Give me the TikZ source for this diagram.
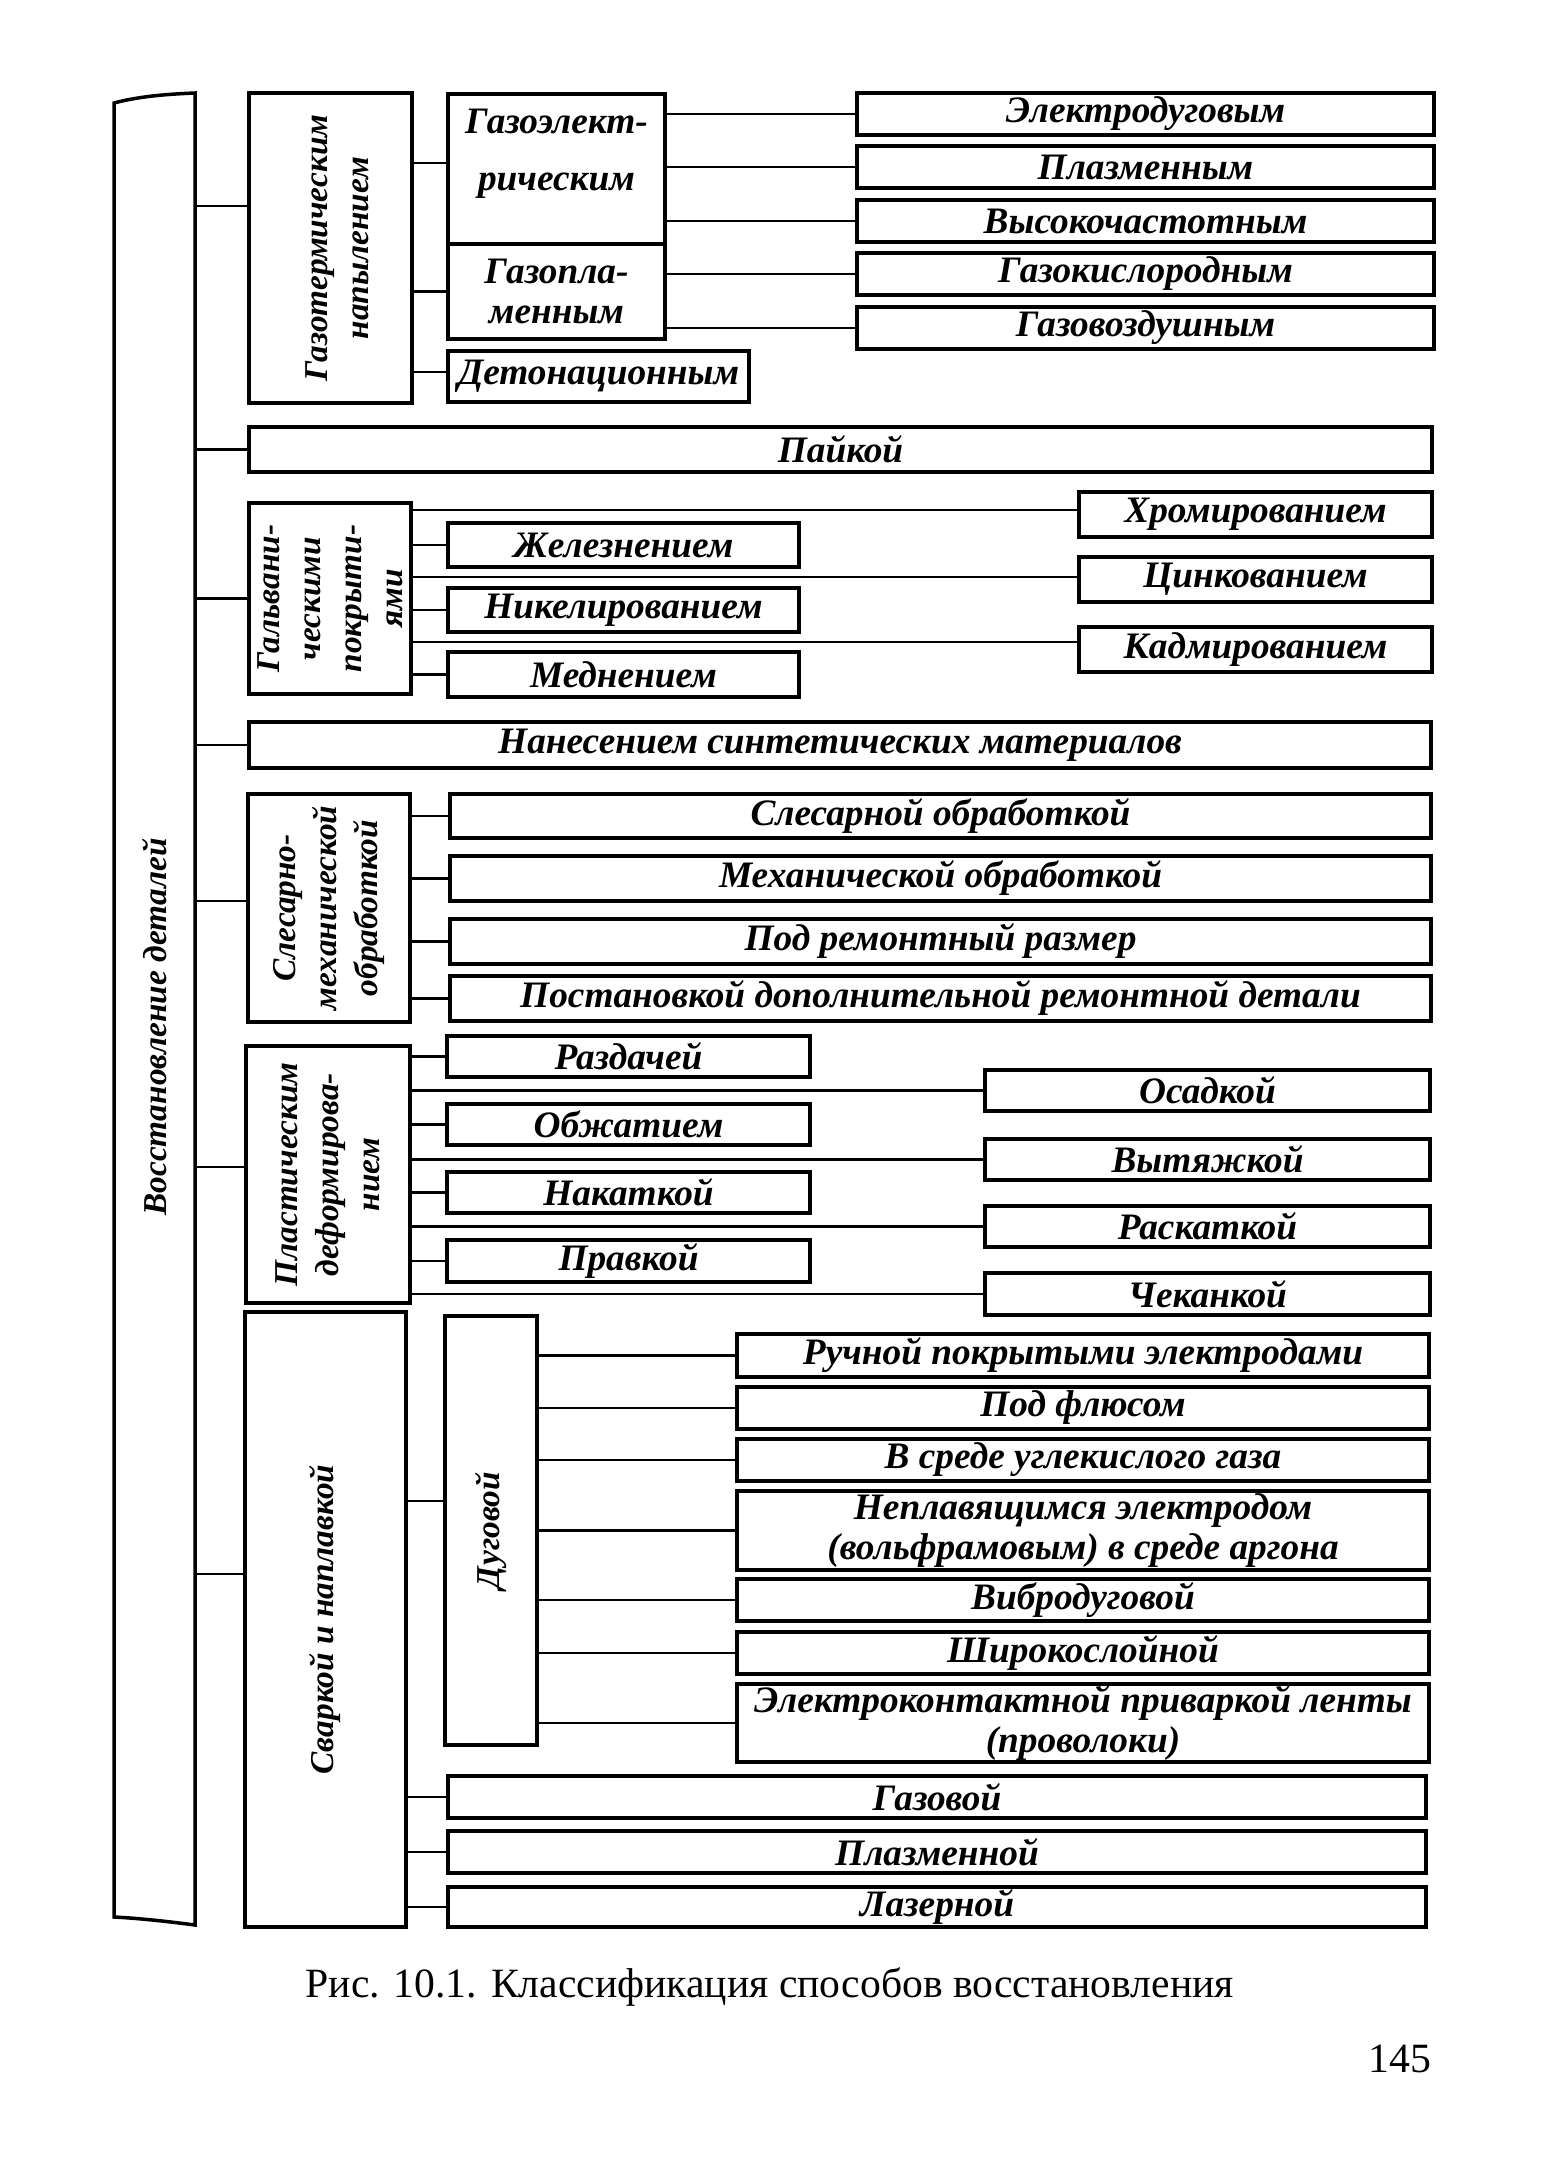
\documentclass[tikz,border=0pt]{standalone}
\usepackage{fontspec}
\setmainfont{Liberation Serif}
\begin{document}
\begin{tikzpicture}[x=0.3pt,y=-0.3pt,
  box/.style={draw, line width=1.05pt, inner sep=0pt, font=\bfseries\itshape\fontsize{11.2}{12}\selectfont, align=center},
  lbl/.style={font=\bfseries\itshape\fontsize{10}{12.3}\selectfont, align=center, inner sep=0pt},
  txt/.style={font=\bfseries\itshape\fontsize{11.2}{12}\selectfont, align=center, inner sep=0pt},
  con/.style={line width=0.8pt},
  plain/.style={font=\fontsize{12.5}{14}\selectfont, inner sep=0pt}]
\newcommand\bx[6][]{\node[box,#1, minimum width={(#4-#2)*0.3pt}, minimum height={(#5-#3)*0.3pt}] (#6) at ({(#2+#4)/2},{(#3+#5)/2})}
\useasboundingbox (0,0) rectangle (1543,2167);

% root
\draw[line width=1.05pt] (114,103) .. controls (140,96) and (170,94) .. (195,93) -- (195,1925)
  .. controls (165,1921) and (135,1918) .. (114,1917) -- cycle;
\node[minimum width={81*0.3pt}, minimum height={1820*0.3pt}, inner sep=0pt] (root) at (154.5,1010) {};
\node[lbl, rotate=90] (rootl) at (154.5,1027) {Восстановление деталей};

% group 1
\bx{249}{93}{412}{403}{gt} {};
\node[lbl, rotate=90] (gtl) at ([xshift=2pt]gt.center) {Газотермическим\\напылением};
\bx{448}{94}{665}{244}{ge} {};
\node[txt] (gel) at ([yshift=4.5pt]ge.center) {Газоэлект-\\[5pt]рическим};
\bx{448}{244}{665}{339}{gp} {Газопла-\\менным};
\bx{448}{351}{749}{402}{det} {Детонационным};
\bx{857}{93}{1434}{135}{r1} {Электродуговым};
\bx{857}{146}{1434}{188}{r2} {Плазменным};
\bx{857}{200}{1434}{242}{r3} {Высокочастотным};
\bx{857}{253}{1434}{295}{r4} {Газокислородным};
\bx{857}{307}{1434}{349}{r5} {Газовоздушным};

% group 2
\bx{249}{427}{1432}{472}{pay} {Пайкой};

% group 3
\bx{249}{503}{411}{694}{gal} {};
\node[lbl, rotate=90] (gall) at (gal.center) {Гальвани-\\ческими\\покрыти-\\ями};
\bx{448}{523}{799}{567}{zh} {Железнением};
\bx{448}{588}{799}{632}{ni} {Никелированием};
\bx{448}{652}{799}{697}{me} {Меднением};
\bx{1079}{492}{1432}{537}{hr} {Хромированием};
\bx{1079}{557}{1432}{602}{ci} {Цинкованием};
\bx{1079}{627}{1432}{672}{ka} {Кадмированием};

% group 4
\bx{249}{722}{1431}{768}{nan} {Нанесением синтетических материалов};

% group 5
\bx{248}{794}{410}{1022}{sl} {};
\node[lbl, rotate=90] (sll) at (sl.center) {Слесарно-\\механической\\обработкой};
\bx{450}{794}{1431}{838}{s1} {Слесарной обработкой};
\bx{450}{856}{1431}{901}{s2} {Механической обработкой};
\bx{450}{919}{1431}{964}{s3} {Под ремонтный размер};
\bx{450}{976}{1431}{1021}{s4} {Постановкой дополнительной ремонтной детали};

% group 6
\bx{246}{1046}{410}{1303}{pl} {};
\node[lbl, rotate=90] (pll) at (pl.center) {Пластическим\\деформирова-\\нием};
\bx{447}{1036}{810}{1077}{p1} {Раздачей};
\bx{447}{1104}{810}{1145}{p2} {Обжатием};
\bx{447}{1172}{810}{1213}{p3} {Накаткой};
\bx{447}{1240}{810}{1282}{p4} {Правкой};
\bx{985}{1070}{1430}{1111}{q1} {Осадкой};
\bx{985}{1139}{1430}{1180}{q2} {Вытяжкой};
\bx{985}{1206}{1430}{1247}{q3} {Раскаткой};
\bx{985}{1273}{1430}{1315}{q4} {Чеканкой};

% group 7
\bx{245}{1312}{406}{1927}{sv} {};
\node[lbl, rotate=90] (svl) at (sv.center) {Сваркой и наплавкой};
\bx{445}{1316}{537}{1745}{dug} {};
\node[lbl, rotate=90] (dugl) at (dug.center) {Дуговой};
\bx{737}{1334}{1429}{1377}{w1} {Ручной покрытыми электродами};
\bx{737}{1387}{1429}{1429}{w2} {Под флюсом};
\bx{737}{1439}{1429}{1481}{w3} {В среде углекислого газа};
\bx{737}{1491}{1429}{1570}{w4} {Неплавящимся электродом\\(вольфрамовым) в среде аргона};
\bx{737}{1579}{1429}{1621}{w5} {Вибродуговой};
\bx{737}{1632}{1429}{1674}{w6} {Широкослойной};
\bx{737}{1684}{1429}{1762}{w7} {Электроконтактной приваркой ленты\\(проволоки)};
\bx{448}{1776}{1426}{1818}{b1} {Газовой};
\bx{448}{1831}{1426}{1873}{b2} {Плазменной};
\bx{448}{1887}{1426}{1927}{b3} {Лазерной};

% connector levels
\coordinate (yGT) at (0,206);
\coordinate (ySL) at (0,901);
\coordinate (yPL) at (0,1167);
\coordinate (ySV) at (0,1574);
\coordinate (yDG) at (0,1501);
\coordinate (yHR) at (0,510);
\coordinate (yCI) at (0,577);
\coordinate (yKA) at (0,642);
\coordinate (yGE) at (0,163);
\coordinate (yDT) at (0,372);

% root connectors
\draw[con] (root.east |- yGT) -- (gt.west |- yGT);
\draw[con] (root.east |- pay.west) -- (pay.west);
\draw[con] (root.east |- gal.west) -- (gal.west);
\draw[con] (root.east |- nan.west) -- (nan.west);
\draw[con] (root.east |- ySL) -- (sl.west |- ySL);
\draw[con] (root.east |- yPL) -- (pl.west |- yPL);
\draw[con] (root.east |- ySV) -- (sv.west |- ySV);

% group 1 connectors
\draw[con] (gt.east |- yGE) -- (ge.west |- yGE);
\draw[con] (gt.east |- gp.west) -- (gp.west);
\draw[con] (gt.east |- yDT) -- (det.west |- yDT);
\draw[con] (ge.east |- r1.west) -- (r1.west);
\draw[con] (ge.east |- r2.west) -- (r2.west);
\draw[con] (ge.east |- r3.west) -- (r3.west);
\draw[con] (gp.east |- r4.west) -- (r4.west);
\draw[con] (gp.east |- r5.west) -- (r5.west);

% group 3 connectors
\draw[con] (gal.east |- zh.west) -- (zh.west);
\draw[con] (gal.east |- ni.west) -- (ni.west);
\draw[con] (gal.east |- me.west) -- (me.west);
\draw[con] (gal.east |- yHR) -- (hr.west |- yHR);
\draw[con] (gal.east |- yCI) -- (ci.west |- yCI);
\draw[con] (gal.east |- yKA) -- (ka.west |- yKA);

% group 5 connectors
\foreach \n in {s1,s2,s3,s4} \draw[con] (sl.east |- \n.west) -- (\n.west);

% group 6 connectors
\foreach \n in {p1,p2,p3,p4,q1,q2,q3,q4} \draw[con] (pl.east |- \n.west) -- (\n.west);

% group 7 connectors
\draw[con] (sv.east |- yDG) -- (dug.west |- yDG);
\foreach \n in {w1,w2,w3,w4,w5,w6,w7} \draw[con] (dug.east |- \n.west) -- (\n.west);
\foreach \n in {b1,b2,b3} \draw[con] (sv.east |- \n.west) -- (\n.west);

% caption and page number
\node[plain, anchor=base west] (cap) at (305,1997) {Рис. 10.1. Классификация способов восстановления};
\node[plain, anchor=base east] (pg) at (1432,2072) {145};
\end{tikzpicture}
\end{document}
